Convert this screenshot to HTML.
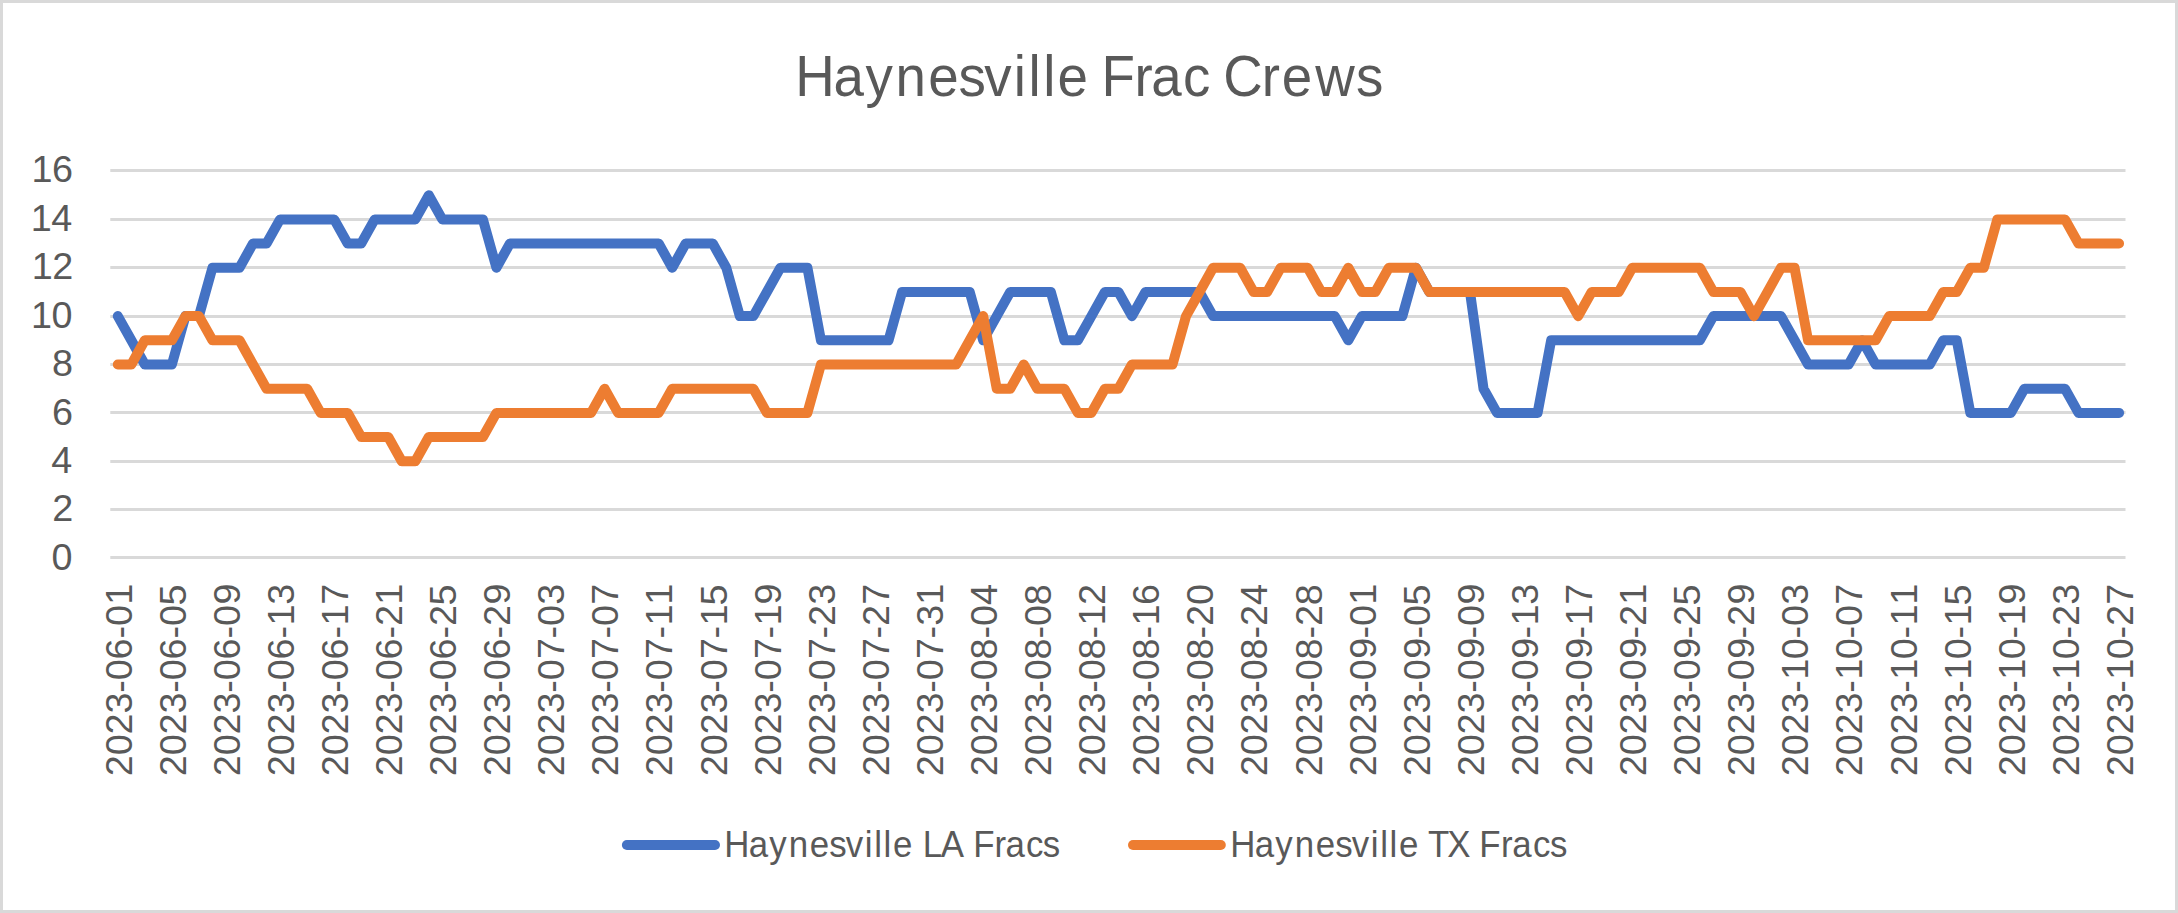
<!DOCTYPE html>
<html lang="en"><head><meta charset="utf-8"><title>Haynesville Frac Crews</title>
<style>html,body{margin:0;padding:0;background:#fff;}body{width:2178px;height:913px;overflow:hidden;}svg{display:block;}text{font-family:"Liberation Sans", sans-serif;fill:#595959;white-space:pre;}</style></head><body>
<svg width="2178" height="913" viewBox="0 0 2178 913">
<rect x="0" y="0" width="2178" height="913" fill="#ffffff"/>
<rect x="1.5" y="1.5" width="2175" height="910" fill="none" stroke="#D9D9D9" stroke-width="3"/>
<text transform="scale(0.9600,1)" x="828.51 868.19 901.53 932.91 966.99 998.42 1025.34 1056.03 1071.38 1086.73 1101.64 1133.34 1147.47 1181.80 1199.29 1232.28 1260.78 1274.20 1314.37 1335.13 1370.00 1412.49" y="96.40" font-size="57">Haynesville Frac Crews</text>
<line x1="110.3" x2="2125.5" y1="170.50" y2="170.50" stroke="#D9D9D9" stroke-width="3"/>
<text transform="scale(1.0400,1)" x="30.29 49.99" y="182.40" font-size="36.3">16</text>
<line x1="110.3" x2="2125.5" y1="219.50" y2="219.50" stroke="#D9D9D9" stroke-width="3"/>
<text transform="scale(1.0400,1)" x="29.57 49.34" y="230.84" font-size="36.3">14</text>
<line x1="110.3" x2="2125.5" y1="267.50" y2="267.50" stroke="#D9D9D9" stroke-width="3"/>
<text transform="scale(1.0400,1)" x="30.53 50.24" y="279.28" font-size="36.3">12</text>
<line x1="110.3" x2="2125.5" y1="316.50" y2="316.50" stroke="#D9D9D9" stroke-width="3"/>
<text transform="scale(1.0400,1)" x="29.93 49.64" y="327.72" font-size="36.3">10</text>
<line x1="110.3" x2="2125.5" y1="364.50" y2="364.50" stroke="#D9D9D9" stroke-width="3"/>
<text transform="scale(1.0400,1)" x="50.06" y="376.16" font-size="36.3">8</text>
<line x1="110.3" x2="2125.5" y1="412.50" y2="412.50" stroke="#D9D9D9" stroke-width="3"/>
<text transform="scale(1.0400,1)" x="49.99" y="424.60" font-size="36.3">6</text>
<line x1="110.3" x2="2125.5" y1="461.50" y2="461.50" stroke="#D9D9D9" stroke-width="3"/>
<text transform="scale(1.0400,1)" x="49.34" y="473.04" font-size="36.3">4</text>
<line x1="110.3" x2="2125.5" y1="509.50" y2="509.50" stroke="#D9D9D9" stroke-width="3"/>
<text transform="scale(1.0400,1)" x="50.24" y="521.48" font-size="36.3">2</text>
<line x1="110.3" x2="2125.5" y1="557.50" y2="557.50" stroke="#D9D9D9" stroke-width="3"/>
<text transform="scale(1.0400,1)" x="49.64" y="569.92" font-size="36.3">0</text>
<text transform="translate(131.60,774.30) rotate(-90) scale(1.0400,1)" x="-1.83 18.22 38.26 58.56 78.40 90.47 110.51 130.60 142.68 163.06" y="0" font-size="36.3">2023-06-01</text>
<text transform="translate(185.69,774.30) rotate(-90) scale(1.0400,1)" x="-1.83 18.22 38.26 58.56 78.40 90.47 110.51 130.60 142.68 162.42" y="0" font-size="36.3">2023-06-05</text>
<text transform="translate(239.78,774.30) rotate(-90) scale(1.0400,1)" x="-1.83 18.22 38.26 58.56 78.40 90.47 110.51 130.60 142.68 163.20" y="0" font-size="36.3">2023-06-09</text>
<text transform="translate(293.86,774.30) rotate(-90) scale(1.0400,1)" x="-1.83 18.22 38.26 58.56 78.40 90.47 110.51 130.60 143.02 162.97" y="0" font-size="36.3">2023-06-13</text>
<text transform="translate(347.95,774.30) rotate(-90) scale(1.0400,1)" x="-1.83 18.22 38.26 58.56 78.40 90.47 110.51 130.60 143.02 162.96" y="0" font-size="36.3">2023-06-17</text>
<text transform="translate(402.04,774.30) rotate(-90) scale(1.0400,1)" x="-1.83 18.22 38.26 58.56 78.40 90.47 110.51 130.60 142.67 163.06" y="0" font-size="36.3">2023-06-21</text>
<text transform="translate(456.13,774.30) rotate(-90) scale(1.0400,1)" x="-1.83 18.22 38.26 58.56 78.40 90.47 110.51 130.60 142.67 162.42" y="0" font-size="36.3">2023-06-25</text>
<text transform="translate(510.22,774.30) rotate(-90) scale(1.0400,1)" x="-1.83 18.22 38.26 58.56 78.40 90.47 110.51 130.60 142.67 163.20" y="0" font-size="36.3">2023-06-29</text>
<text transform="translate(564.30,774.30) rotate(-90) scale(1.0400,1)" x="-1.83 18.22 38.26 58.56 78.40 90.47 110.76 130.60 142.68 162.97" y="0" font-size="36.3">2023-07-03</text>
<text transform="translate(618.39,774.30) rotate(-90) scale(1.0400,1)" x="-1.83 18.22 38.26 58.56 78.40 90.47 110.76 130.60 142.68 162.96" y="0" font-size="36.3">2023-07-07</text>
<text transform="translate(672.48,774.30) rotate(-90) scale(1.0400,1)" x="-1.83 18.22 38.26 58.56 78.40 90.47 110.76 130.60 143.02 163.06" y="0" font-size="36.3">2023-07-11</text>
<text transform="translate(726.57,774.30) rotate(-90) scale(1.0400,1)" x="-1.83 18.22 38.26 58.56 78.40 90.47 110.76 130.60 143.02 162.42" y="0" font-size="36.3">2023-07-15</text>
<text transform="translate(780.66,774.30) rotate(-90) scale(1.0400,1)" x="-1.83 18.22 38.26 58.56 78.40 90.47 110.76 130.60 143.02 163.20" y="0" font-size="36.3">2023-07-19</text>
<text transform="translate(834.74,774.30) rotate(-90) scale(1.0400,1)" x="-1.83 18.22 38.26 58.56 78.40 90.47 110.76 130.60 142.67 162.97" y="0" font-size="36.3">2023-07-23</text>
<text transform="translate(888.83,774.30) rotate(-90) scale(1.0400,1)" x="-1.83 18.22 38.26 58.56 78.40 90.47 110.76 130.60 142.67 162.96" y="0" font-size="36.3">2023-07-27</text>
<text transform="translate(942.92,774.30) rotate(-90) scale(1.0400,1)" x="-1.83 18.22 38.26 58.56 78.40 90.47 110.76 130.60 142.92 163.06" y="0" font-size="36.3">2023-07-31</text>
<text transform="translate(997.01,774.30) rotate(-90) scale(1.0400,1)" x="-1.83 18.22 38.26 58.56 78.40 90.47 110.46 130.60 142.68 162.79" y="0" font-size="36.3">2023-08-04</text>
<text transform="translate(1051.10,774.30) rotate(-90) scale(1.0400,1)" x="-1.83 18.22 38.26 58.56 78.40 90.47 110.46 130.60 142.68 162.66" y="0" font-size="36.3">2023-08-08</text>
<text transform="translate(1105.18,774.30) rotate(-90) scale(1.0400,1)" x="-1.83 18.22 38.26 58.56 78.40 90.47 110.46 130.60 143.02 162.72" y="0" font-size="36.3">2023-08-12</text>
<text transform="translate(1159.27,774.30) rotate(-90) scale(1.0400,1)" x="-1.83 18.22 38.26 58.56 78.40 90.47 110.46 130.60 143.02 162.72" y="0" font-size="36.3">2023-08-16</text>
<text transform="translate(1213.36,774.30) rotate(-90) scale(1.0400,1)" x="-1.83 18.22 38.26 58.56 78.40 90.47 110.46 130.60 142.67 162.72" y="0" font-size="36.3">2023-08-20</text>
<text transform="translate(1267.45,774.30) rotate(-90) scale(1.0400,1)" x="-1.83 18.22 38.26 58.56 78.40 90.47 110.46 130.60 142.67 162.79" y="0" font-size="36.3">2023-08-24</text>
<text transform="translate(1321.54,774.30) rotate(-90) scale(1.0400,1)" x="-1.83 18.22 38.26 58.56 78.40 90.47 110.46 130.60 142.67 162.66" y="0" font-size="36.3">2023-08-28</text>
<text transform="translate(1375.62,774.30) rotate(-90) scale(1.0400,1)" x="-1.83 18.22 38.26 58.56 78.40 90.47 111.00 130.60 142.68 163.06" y="0" font-size="36.3">2023-09-01</text>
<text transform="translate(1429.71,774.30) rotate(-90) scale(1.0400,1)" x="-1.83 18.22 38.26 58.56 78.40 90.47 111.00 130.60 142.68 162.42" y="0" font-size="36.3">2023-09-05</text>
<text transform="translate(1483.80,774.30) rotate(-90) scale(1.0400,1)" x="-1.83 18.22 38.26 58.56 78.40 90.47 111.00 130.60 142.68 163.20" y="0" font-size="36.3">2023-09-09</text>
<text transform="translate(1537.89,774.30) rotate(-90) scale(1.0400,1)" x="-1.83 18.22 38.26 58.56 78.40 90.47 111.00 130.60 143.02 162.97" y="0" font-size="36.3">2023-09-13</text>
<text transform="translate(1591.98,774.30) rotate(-90) scale(1.0400,1)" x="-1.83 18.22 38.26 58.56 78.40 90.47 111.00 130.60 143.02 162.96" y="0" font-size="36.3">2023-09-17</text>
<text transform="translate(1646.06,774.30) rotate(-90) scale(1.0400,1)" x="-1.83 18.22 38.26 58.56 78.40 90.47 111.00 130.60 142.67 163.06" y="0" font-size="36.3">2023-09-21</text>
<text transform="translate(1700.15,774.30) rotate(-90) scale(1.0400,1)" x="-1.83 18.22 38.26 58.56 78.40 90.47 111.00 130.60 142.67 162.42" y="0" font-size="36.3">2023-09-25</text>
<text transform="translate(1754.24,774.30) rotate(-90) scale(1.0400,1)" x="-1.83 18.22 38.26 58.56 78.40 90.47 111.00 130.60 142.67 163.20" y="0" font-size="36.3">2023-09-29</text>
<text transform="translate(1808.33,774.30) rotate(-90) scale(1.0400,1)" x="-1.83 18.22 38.26 58.56 78.40 90.81 110.52 130.60 142.68 162.97" y="0" font-size="36.3">2023-10-03</text>
<text transform="translate(1862.42,774.30) rotate(-90) scale(1.0400,1)" x="-1.83 18.22 38.26 58.56 78.40 90.81 110.52 130.60 142.68 162.96" y="0" font-size="36.3">2023-10-07</text>
<text transform="translate(1916.50,774.30) rotate(-90) scale(1.0400,1)" x="-1.83 18.22 38.26 58.56 78.40 90.81 110.52 130.60 143.02 163.06" y="0" font-size="36.3">2023-10-11</text>
<text transform="translate(1970.59,774.30) rotate(-90) scale(1.0400,1)" x="-1.83 18.22 38.26 58.56 78.40 90.81 110.52 130.60 143.02 162.42" y="0" font-size="36.3">2023-10-15</text>
<text transform="translate(2024.68,774.30) rotate(-90) scale(1.0400,1)" x="-1.83 18.22 38.26 58.56 78.40 90.81 110.52 130.60 143.02 163.20" y="0" font-size="36.3">2023-10-19</text>
<text transform="translate(2078.77,774.30) rotate(-90) scale(1.0400,1)" x="-1.83 18.22 38.26 58.56 78.40 90.81 110.52 130.60 142.67 162.97" y="0" font-size="36.3">2023-10-23</text>
<text transform="translate(2132.86,774.30) rotate(-90) scale(1.0400,1)" x="-1.83 18.22 38.26 58.56 78.40 90.81 110.52 130.60 142.67 162.96" y="0" font-size="36.3">2023-10-27</text>
<path d="M117.80 316.12 L131.32 340.31 L144.84 364.50 L158.37 364.50 L171.89 364.50 L185.41 316.12 L198.93 316.12 L212.45 267.75 L225.98 267.75 L239.50 267.75 L253.02 243.56 L266.54 243.56 L280.06 219.38 L293.59 219.38 L307.11 219.38 L320.63 219.38 L334.15 219.38 L347.67 243.56 L361.20 243.56 L374.72 219.38 L388.24 219.38 L401.76 219.38 L415.28 219.38 L428.81 195.19 L442.33 219.38 L455.85 219.38 L469.37 219.38 L482.89 219.38 L496.42 267.75 L509.94 243.56 L523.46 243.56 L536.98 243.56 L550.50 243.56 L564.03 243.56 L577.55 243.56 L591.07 243.56 L604.59 243.56 L618.11 243.56 L631.64 243.56 L645.16 243.56 L658.68 243.56 L672.20 267.75 L685.72 243.56 L699.25 243.56 L712.77 243.56 L726.29 267.75 L739.81 316.12 L753.33 316.12 L766.86 291.94 L780.38 267.75 L793.90 267.75 L807.42 267.75 L820.94 340.31 L834.47 340.31 L847.99 340.31 L861.51 340.31 L875.03 340.31 L888.55 340.31 L902.08 291.94 L915.60 291.94 L929.12 291.94 L942.64 291.94 L956.16 291.94 L969.69 291.94 L983.21 340.31 L996.73 316.12 L1010.25 291.94 L1023.77 291.94 L1037.30 291.94 L1050.82 291.94 L1064.34 340.31 L1077.86 340.31 L1091.38 316.12 L1104.91 291.94 L1118.43 291.94 L1131.95 316.12 L1145.47 291.94 L1158.99 291.94 L1172.52 291.94 L1186.04 291.94 L1199.56 291.94 L1213.08 316.12 L1226.60 316.12 L1240.13 316.12 L1253.65 316.12 L1267.17 316.12 L1280.69 316.12 L1294.21 316.12 L1307.74 316.12 L1321.26 316.12 L1334.78 316.12 L1348.30 340.31 L1361.82 316.12 L1375.35 316.12 L1388.87 316.12 L1402.39 316.12 L1415.91 267.75 L1429.43 291.94 L1442.96 291.94 L1456.48 291.94 L1470.00 291.94 L1483.52 388.69 L1497.04 412.88 L1510.57 412.88 L1524.09 412.88 L1537.61 412.88 L1551.13 340.31 L1564.65 340.31 L1578.18 340.31 L1591.70 340.31 L1605.22 340.31 L1618.74 340.31 L1632.26 340.31 L1645.79 340.31 L1659.31 340.31 L1672.83 340.31 L1686.35 340.31 L1699.87 340.31 L1713.40 316.12 L1726.92 316.12 L1740.44 316.12 L1753.96 316.12 L1767.48 316.12 L1781.01 316.12 L1794.53 340.31 L1808.05 364.50 L1821.57 364.50 L1835.09 364.50 L1848.62 364.50 L1862.14 340.31 L1875.66 364.50 L1889.18 364.50 L1902.70 364.50 L1916.23 364.50 L1929.75 364.50 L1943.27 340.31 L1956.79 340.31 L1970.31 412.88 L1983.84 412.88 L1997.36 412.88 L2010.88 412.88 L2024.40 388.69 L2037.92 388.69 L2051.45 388.69 L2064.97 388.69 L2078.49 412.88 L2092.01 412.88 L2105.53 412.88 L2119.06 412.88" fill="none" stroke="#4472C4" stroke-width="10" stroke-linecap="round" stroke-linejoin="round"/>
<path d="M117.80 364.50 L131.32 364.50 L144.84 340.31 L158.37 340.31 L171.89 340.31 L185.41 316.12 L198.93 316.12 L212.45 340.31 L225.98 340.31 L239.50 340.31 L253.02 364.50 L266.54 388.69 L280.06 388.69 L293.59 388.69 L307.11 388.69 L320.63 412.88 L334.15 412.88 L347.67 412.88 L361.20 437.06 L374.72 437.06 L388.24 437.06 L401.76 461.25 L415.28 461.25 L428.81 437.06 L442.33 437.06 L455.85 437.06 L469.37 437.06 L482.89 437.06 L496.42 412.88 L509.94 412.88 L523.46 412.88 L536.98 412.88 L550.50 412.88 L564.03 412.88 L577.55 412.88 L591.07 412.88 L604.59 388.69 L618.11 412.88 L631.64 412.88 L645.16 412.88 L658.68 412.88 L672.20 388.69 L685.72 388.69 L699.25 388.69 L712.77 388.69 L726.29 388.69 L739.81 388.69 L753.33 388.69 L766.86 412.88 L780.38 412.88 L793.90 412.88 L807.42 412.88 L820.94 364.50 L834.47 364.50 L847.99 364.50 L861.51 364.50 L875.03 364.50 L888.55 364.50 L902.08 364.50 L915.60 364.50 L929.12 364.50 L942.64 364.50 L956.16 364.50 L969.69 340.31 L983.21 316.12 L996.73 388.69 L1010.25 388.69 L1023.77 364.50 L1037.30 388.69 L1050.82 388.69 L1064.34 388.69 L1077.86 412.88 L1091.38 412.88 L1104.91 388.69 L1118.43 388.69 L1131.95 364.50 L1145.47 364.50 L1158.99 364.50 L1172.52 364.50 L1186.04 316.12 L1199.56 291.94 L1213.08 267.75 L1226.60 267.75 L1240.13 267.75 L1253.65 291.94 L1267.17 291.94 L1280.69 267.75 L1294.21 267.75 L1307.74 267.75 L1321.26 291.94 L1334.78 291.94 L1348.30 267.75 L1361.82 291.94 L1375.35 291.94 L1388.87 267.75 L1402.39 267.75 L1415.91 267.75 L1429.43 291.94 L1442.96 291.94 L1456.48 291.94 L1470.00 291.94 L1483.52 291.94 L1497.04 291.94 L1510.57 291.94 L1524.09 291.94 L1537.61 291.94 L1551.13 291.94 L1564.65 291.94 L1578.18 316.12 L1591.70 291.94 L1605.22 291.94 L1618.74 291.94 L1632.26 267.75 L1645.79 267.75 L1659.31 267.75 L1672.83 267.75 L1686.35 267.75 L1699.87 267.75 L1713.40 291.94 L1726.92 291.94 L1740.44 291.94 L1753.96 316.12 L1767.48 291.94 L1781.01 267.75 L1794.53 267.75 L1808.05 340.31 L1821.57 340.31 L1835.09 340.31 L1848.62 340.31 L1862.14 340.31 L1875.66 340.31 L1889.18 316.12 L1902.70 316.12 L1916.23 316.12 L1929.75 316.12 L1943.27 291.94 L1956.79 291.94 L1970.31 267.75 L1983.84 267.75 L1997.36 219.38 L2010.88 219.38 L2024.40 219.38 L2037.92 219.38 L2051.45 219.38 L2064.97 219.38 L2078.49 243.56 L2092.01 243.56 L2105.53 243.56 L2119.06 243.56" fill="none" stroke="#ED7D31" stroke-width="10" stroke-linecap="round" stroke-linejoin="round"/>
<line x1="626.9" x2="715.0" y1="845" y2="845" stroke="#4472C4" stroke-width="10" stroke-linecap="round"/>
<text transform="scale(0.9600,1)" x="754.47 780.05 801.40 821.62 843.55 863.78 881.00 900.71 910.58 920.45 930.13 950.31 961.12 979.98 1004.20 1013.78 1035.95 1047.42 1068.73 1086.21" y="856.60" font-size="36.3">Haynesville LA Fracs</text>
<line x1="1133" x2="1220.8" y1="845" y2="845" stroke="#ED7D31" stroke-width="10" stroke-linecap="round"/>
<text transform="scale(0.9600,1)" x="1281.46 1307.04 1328.40 1348.64 1370.58 1390.83 1408.05 1427.77 1437.65 1447.52 1457.20 1477.39 1487.44 1507.68 1531.89 1540.99 1563.44 1575.15 1596.78 1614.54" y="856.60" font-size="36.3">Haynesville TX Fracs</text>
</svg></body></html>
